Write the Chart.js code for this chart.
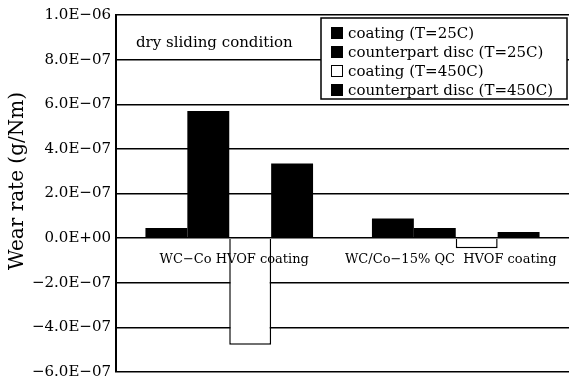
<!DOCTYPE html>
<html>
<head>
<meta charset="utf-8">
<script src="https://cdn.jsdelivr.net/npm/chart.js@4"></script>
<style>
html, body { margin: 0; padding: 0; background: #fff; }
#wrap { width: 569px; height: 386px; }
</style>
</head>
<body>
<div id="wrap"><canvas id="chart_wear"></canvas></div>
<script>
var categories = ['WC\u2212Co HVOF coating', 'WC/Co\u221215% QC  HVOF coating']
var series_names = ['coating (T=25C)', 'counterpart disc (T=25C)', 'coating (T=450C)', 'counterpart disc (T=450C)']
var coating_25 = [0.45e-7, 0.88e-7]
var disc_25 = [5.7e-7, 0.45e-7]
var coating_450 = [-4.78e-7, -0.45e-7]
var disc_450 = [3.35e-7, 0.27e-7]
var y_ticks = [-6e-7, -4e-7, -2e-7, 0, 2e-7, 4e-7, 6e-7, 8e-7, 1e-6]
var y_tick_labels = ['\u22126.0E\u221207', '\u22124.0E\u221207', '\u22122.0E\u221207', '0.0E+00', '2.0E\u221207', '4.0E\u221207', '6.0E\u221207', '8.0E\u221207', '1.0E\u221206']
var y_title = 'Wear rate (g/Nm)'
var note_text = 'dry sliding condition'

var serif = '"DejaVu Serif", "Liberation Serif", serif'

// category names, note, y title and legend box drawn on the canvas
var extras = {
    id: 'extras',
    afterDraw: function (chart) {
        var ctx = chart.ctx
        var area = chart.chartArea
        var xs = chart.scales.x
        var ys = chart.scales.y
        ctx.save()
        ctx.fillStyle = '#000'
        ctx.textBaseline = 'middle'

        ctx.font = '13px ' + serif
        ctx.textAlign = 'center'
        var zero = ys.getPixelForValue(0)
        categories.forEach(function (name, i) {
            var shift = i == 0 ? 5 : -5
            ctx.fillText(name, xs.getPixelForValue(i) + shift, zero + 21)
        })

        ctx.font = '15px ' + serif
        ctx.textAlign = 'left'
        ctx.fillText(note_text, area.left + 20, area.top + 28)

        ctx.save()
        ctx.font = '20px ' + serif
        ctx.textAlign = 'center'
        ctx.translate(18, 181)
        ctx.rotate(-Math.PI / 2)
        ctx.fillText(y_title, 0, 0)
        ctx.restore()

        // legend
        var lx = 321, ly = 18, lw = 246, lh = 81
        ctx.fillStyle = '#fff'
        ctx.fillRect(lx, ly, lw, lh)
        ctx.strokeStyle = '#000'
        ctx.lineWidth = 1.5
        ctx.strokeRect(lx, ly, lw, lh)
        ctx.font = '15px ' + serif
        chart.data.datasets.forEach(function (ds, i) {
            var y = ly + 15 + i * 19
            ctx.fillStyle = ds.backgroundColor
            ctx.fillRect(lx + 10, y - 6, 12, 12)
            ctx.lineWidth = 1
            ctx.strokeRect(lx + 10.5, y - 5.5, 11, 11)
            ctx.fillStyle = '#000'
            ctx.fillText(ds.label, lx + 27, y + 1)
        })
        ctx.restore()
    }
}

new Chart(document.getElementById('chart_wear'), {
    type: 'bar',
    data: {
        labels: categories,
        datasets: [
            { label: series_names[0], data: coating_25, backgroundColor: '#000', borderColor: '#000', borderWidth: 0 },
            { label: series_names[1], data: disc_25, backgroundColor: '#000', borderColor: '#000', borderWidth: 0 },
            { label: series_names[2], data: coating_450, backgroundColor: '#fff', borderColor: '#000', borderWidth: 1.5 },
            { label: series_names[3], data: disc_450, backgroundColor: '#000', borderColor: '#000', borderWidth: 0 }
        ]
    },
    options: {
        responsive: true,
        maintainAspectRatio: false,
        animation: false,
        layout: { padding: { top: 15, bottom: 13, left: 0, right: 0 } },
        datasets: { bar: { categoryPercentage: 0.74, barPercentage: 1.0 } },
        scales: {
            x: { display: false },
            y: {
                min: -6e-7,
                max: 1e-6,
                afterBuildTicks: function (scale) {
                    scale.ticks = y_ticks.map(function (v) { return { value: v } })
                },
                afterFit: function (scale) { scale.width = 116 },
                grid: { color: '#000', lineWidth: 1.5, drawTicks: false },
                border: { display: true, color: '#000', width: 2 },
                ticks: {
                    color: '#000',
                    padding: 5,
                    font: { family: serif, size: 15 },
                    callback: function (value, index) { return y_tick_labels[index] }
                }
            }
        },
        plugins: {
            legend: { display: false },
            tooltip: { enabled: false }
        }
    },
    plugins: [extras]
})
</script>
</body>
</html>
